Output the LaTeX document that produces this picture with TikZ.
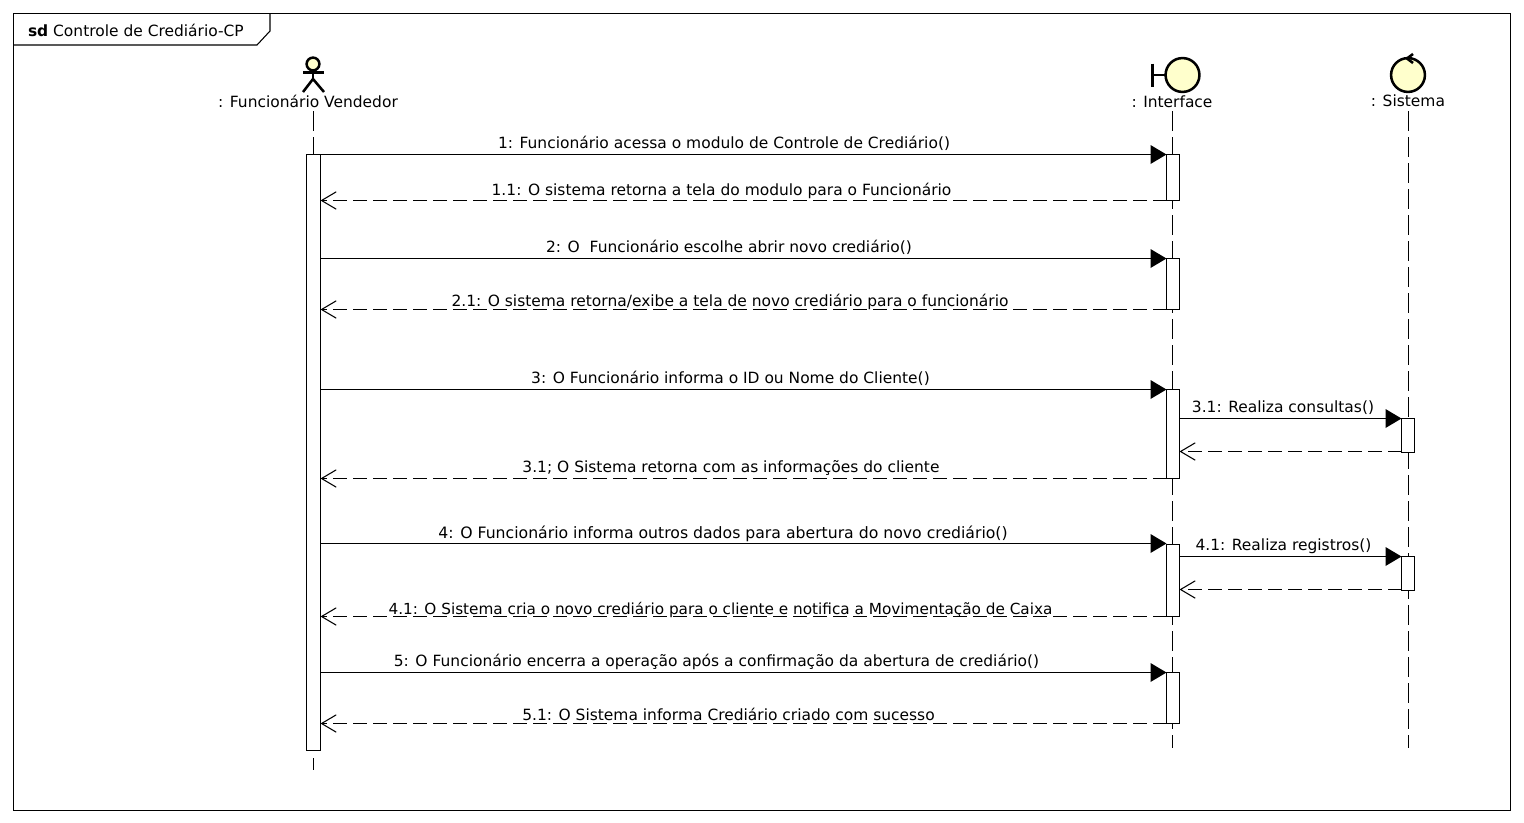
\documentclass[tikz,border=0pt]{standalone}
\usepackage{fontspec}
\setmainfont{DejaVu Sans}
\usetikzlibrary{arrows.meta}
\definecolor{fillyellow}{HTML}{FFFFCC}
\tikzset{
  x=0.75pt,y=-0.75pt,
  every node/.style={font=\fontsize{11.6pt}{13pt}\selectfont,inner sep=0pt,outer sep=0pt},
  frameline/.style={draw=black,line width=0.8pt},
  lifeline/.style={draw=black,line width=0.8pt,dash pattern=on 15pt off 4.5pt},
  actbox/.style={draw=black,fill=white,line width=0.8pt,minimum width=9.75pt,anchor=north,rectangle},
  syncmsg/.style={draw=black,line width=1pt,-{Triangle[length=12pt,width=14pt,fill=black]}},
  retmsg/.style={draw=black,line width=0.8pt,dash pattern=on 10pt off 5pt,-{Straight Barb[length=11pt,width=13pt,line width=0.8pt]}},
  msglabel/.style={anchor=base},
  icon/.style={draw=black,line width=1.9pt,fill=fillyellow},
  iconline/.style={draw=black,line width=1.9pt},
}
\newcommand{\activation}[4]{\node[actbox,minimum height=#4*0.75pt] (#1) at (#2,#3) {};}
\begin{document}
\begin{tikzpicture}
\useasboundingbox (0,0) rectangle (1524,822);
\fill[white] (0,0) rectangle (1524,822);
% frame
\draw[frameline] (13.5,13.5) rectangle (1510.5,810.5);
\draw[frameline] (13.5,45) -- (257,45) -- (270,31) -- (270,13.5);
\node[anchor=base west] (frametitle) at (28,36) {\textbf{sd} Controle de Crediário-CP};
% lifeline heads
\coordinate (vhead) at (313,64);
\draw[iconline] (313,70) -- (313,80);
\draw[iconline] (303,72.5) -- (324,72.5);
\draw[iconline] (303,92) -- (313,79) -- (324,92);
\draw[icon] (vhead) circle[radius=4.8pt];
\node[anchor=base] (vname) at (308,107) {: Funcionário Vendedor};
\draw[iconline] (1152.5,63.5) -- (1152.5,87);
\draw[iconline] (1152.5,75) -- (1165,75);
\draw[icon] (1182.5,75) circle[radius=12.7pt];
\node[anchor=base] (iname) at (1172,107) {: Interface};
\draw[icon] (1408,75) circle[radius=12.7pt];
\draw[iconline] (1413,54) -- (1407,58.5) -- (1413,63);
\node[anchor=base] (sname) at (1408,106) {: Sistema};
% lifelines
\coordinate (vtop) at (313.5,111);
\coordinate (vmid) at (313.5,154.5);
\coordinate (vlow) at (313.5,758);
\coordinate (vend) at (313.5,770);
\coordinate (itop) at (1172.5,111);
\coordinate (iend) at (1172.5,748);
\coordinate (stop) at (1408.5,111);
\coordinate (send) at (1408.5,748);
\draw[lifeline] (vtop) -- (vmid);
\draw[lifeline] (vlow) -- (vend);
\draw[lifeline] (itop) -- (iend);
\draw[lifeline] (stop) -- (send);
% activations
\node[actbox,minimum width=10.5pt,minimum height=447pt] (v) at (313.5,154.5) {};
\activation{ia}{1173}{154.5}{46}
\activation{ib}{1173}{258.5}{51}
\activation{ic}{1173}{389.5}{89}
\activation{id}{1173}{544.5}{72}
\activation{ie}{1173}{672.5}{51}
\activation{sa}{1408}{418.5}{34}
\activation{sb}{1408}{556.5}{34}
% messages
\draw[syncmsg] (v.east |- ia.north) -- (ia.north west);
\draw[retmsg] (ia.south west) -- (v.east |- ia.south);
\draw[syncmsg] (v.east |- ib.north) -- (ib.north west);
\draw[retmsg] (ib.south west) -- (v.east |- ib.south);
\draw[syncmsg] (v.east |- ic.north) -- (ic.north west);
\draw[syncmsg] (ic.east |- sa.north) -- (sa.north west);
\draw[retmsg] ([yshift=.75pt]sa.south west) -- ([yshift=.75pt]ic.east |- sa.south);
\draw[retmsg] (ic.south west) -- (v.east |- ic.south);
\draw[syncmsg] ([yshift=.75pt]v.east |- id.north) -- ([yshift=.75pt]id.north west);
\draw[syncmsg] (id.east |- sb.north) -- (sb.north west);
\draw[retmsg] ([yshift=.75pt]sb.south west) -- ([yshift=.75pt]id.east |- sb.south);
\draw[retmsg] (id.south west) -- (v.east |- id.south);
\draw[syncmsg] (v.east |- ie.north) -- (ie.north west);
\draw[retmsg] (ie.south west) -- (v.east |- ie.south);
% labels
\node[msglabel] (m1) at (724,148.5) {1: Funcionário acessa o modulo de Controle de Crediário()};
\node[msglabel] (m11) at (721.5,195.5) {1.1: O sistema retorna a tela do modulo para o Funcionário};
\node[msglabel] (m2) at (729,252.5) {2: O\ \ Funcionário escolhe abrir novo crediário()};
\node[msglabel] (m21) at (730,306.5) {2.1: O sistema retorna/exibe a tela de novo crediário para o funcionário};
\node[msglabel] (m3) at (730.5,383.5) {3: O Funcionário informa o ID ou Nome do Cliente()};
\node[msglabel] (m31) at (1283,412.5) {3.1: Realiza consultas()};
\node[msglabel] (m32) at (731,472.5) {3.1; O Sistema retorna com as informações do cliente};
\node[msglabel,font=\fontsize{11.76pt}{13pt}\selectfont] (m4) at (723,538) {4: O Funcionário informa outros dados para abertura do novo crediário()};
\node[msglabel] (m41) at (1283.5,550.5) {4.1: Realiza registros()};
\node[msglabel,font=\fontsize{11.45pt}{13pt}\selectfont] (m42) at (720.5,614) {4.1: O Sistema cria o novo crediário para o cliente e notifica a Movimentação de Caixa};
\node[msglabel] (m5) at (716.5,666.5) {5: O Funcionário encerra a operação após a confirmação da abertura de crediário()};
\node[msglabel] (m51) at (728.5,720.5) {5.1: O Sistema informa Crediário criado com sucesso};
\end{tikzpicture}
\end{document}
